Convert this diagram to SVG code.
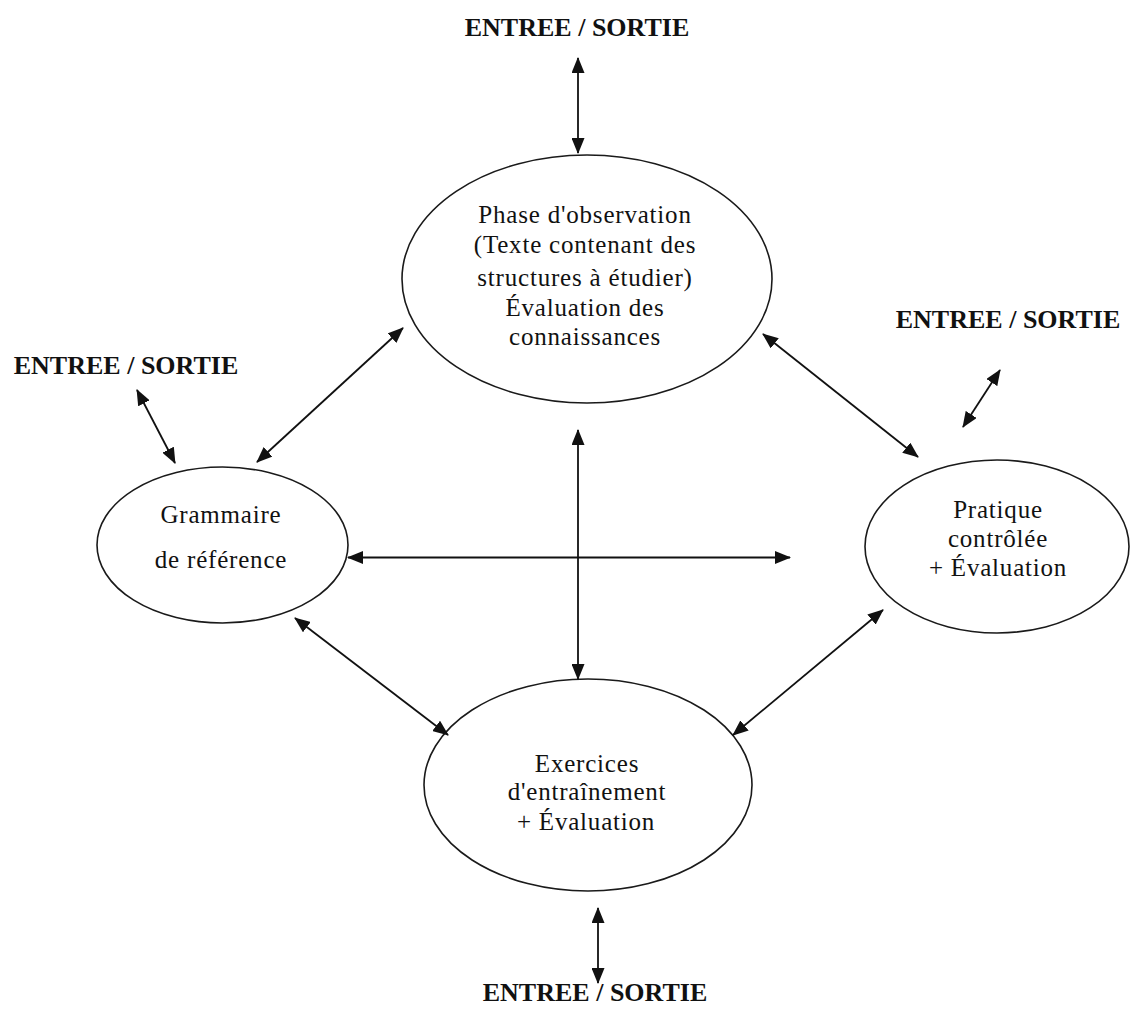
<svg xmlns="http://www.w3.org/2000/svg" width="1130" height="1010" viewBox="0 0 1130 1010">
<style>
.node ellipse{fill:#fff;stroke:#1a1a1a;stroke-width:1.6}
.t{font-family:"Liberation Serif","Times New Roman",serif;font-size:25px;letter-spacing:0.8px;fill:#111;text-anchor:middle}
.io{font-family:"Liberation Serif","Times New Roman",serif;font-size:26px;font-weight:bold;fill:#111;text-anchor:middle}
.conn line{stroke:#111;stroke-width:1.8;marker-start:url(#ah);marker-end:url(#ah)}
</style>
<defs>
<marker id="ah" viewBox="0 0 16 13" refX="15" refY="6.5" markerWidth="16" markerHeight="13" markerUnits="userSpaceOnUse" orient="auto-start-reverse">
<path d="M0,0 L16,6.5 L0,13 z" fill="#111"/>
</marker>
</defs>
<rect width="1130" height="1010" fill="#fff"/>
<g id="io-top"><text class="io" x="577" y="36">ENTREE / SORTIE</text></g>
<g id="io-left"><text class="io" x="126" y="374">ENTREE / SORTIE</text></g>
<g id="io-right"><text class="io" x="1008" y="328">ENTREE / SORTIE</text></g>
<g id="io-bottom"><text class="io" x="595" y="1001">ENTREE / SORTIE</text></g>
<g id="observation" class="node">
<ellipse cx="587" cy="279" rx="185" ry="124"/>
<text class="t" x="585" y="223">Phase d'observation</text>
<text class="t" x="585" y="253">(Texte contenant des</text>
<text class="t" x="585" y="286">structures à étudier)</text>
<text class="t" x="585" y="316">Évaluation des</text>
<text class="t" x="585" y="345">connaissances</text>
</g>
<g id="grammaire" class="node">
<ellipse cx="222.5" cy="545" rx="125.5" ry="78"/>
<text class="t" x="221" y="523">Grammaire</text>
<text class="t" x="221" y="568">de référence</text>
</g>
<g id="pratique" class="node">
<ellipse cx="997" cy="546.5" rx="132" ry="86.5"/>
<text class="t" x="998" y="518">Pratique</text>
<text class="t" x="998" y="547">contrôlée</text>
<text class="t" x="998" y="576">+ Évaluation</text>
</g>
<g id="exercices" class="node">
<ellipse cx="588" cy="785" rx="164" ry="106"/>
<text class="t" x="587" y="772">Exercices</text>
<text class="t" x="587" y="800">d'entraînement</text>
<text class="t" x="586" y="830">+ Évaluation</text>
</g>
<g id="connectors" class="conn">
<line x1="578" y1="58" x2="578" y2="153"/>
<line x1="137" y1="390" x2="175" y2="463"/>
<line x1="403" y1="328" x2="257" y2="462"/>
<line x1="763" y1="334" x2="918" y2="457"/>
<line x1="1000" y1="370" x2="963" y2="427"/>
<line x1="348" y1="557.5" x2="790" y2="557.5"/>
<line x1="578" y1="430" x2="578" y2="679"/>
<line x1="295" y1="618" x2="448" y2="735"/>
<line x1="883" y1="610" x2="733" y2="735"/>
<line x1="598" y1="908" x2="598" y2="983"/>
</g>
</svg>
